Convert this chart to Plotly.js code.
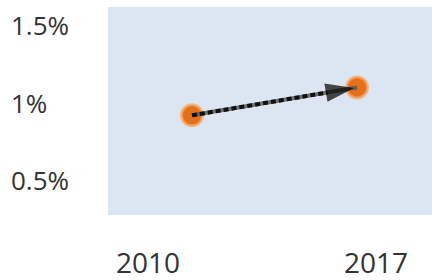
<!DOCTYPE html>
<html>
<head>
<meta charset="utf-8">
<script src="https://cdn.plot.ly/plotly-3.0.1.min.js"></script>
<style>html,body{margin:0;padding:0;background:#fff;}#chart{width:436px;height:280px;}</style>
</head>
<body>
<div id="chart"></div>
<script>
// Data
var years = [2010, 2017];
var rates = [0.92, 1.10];          // percent
var yTickVals = [0.5, 1, 1.5];
var yTickText = ['0.5%', '1%', '1.5%'];
var xTickText = ['2010', '2017'];

var font = "'Open Sans', 'Liberation Sans', sans-serif";

var traces = [
  {
    x: years, y: rates, type: 'scatter', mode: 'markers',
    marker: {color: '#E5701A', size: 21, line: {color: 'rgba(248,165,95,0.7)', width: 3}},
    hoverinfo: 'skip', showlegend: false
  },
  {
    x: years, y: rates, type: 'scatter', mode: 'lines',
    line: {color: 'rgba(90,90,90,0.85)', width: 4},
    hoverinfo: 'skip', showlegend: false
  },
  {
    x: years, y: rates, type: 'scatter', mode: 'lines+markers',
    line: {color: '#111', width: 4, dash: '5px,3px'},
    marker: {symbol: ['circle', 'arrow'], size: [0, 30], angleref: 'previous',
             standoff: 3, color: '#000', line: {width: 0}},
    hoverinfo: 'skip', showlegend: false
  }
];

var annotations = [];
yTickVals.forEach(function (v, i) {
  annotations.push({
    xref: 'paper', yref: 'y', x: -0.305, y: v, xanchor: 'left', yanchor: 'middle',
    text: yTickText[i], showarrow: false, font: {family: font, size: 26, color: '#333'}
  });
});
var xShift = [-44, 19];
years.forEach(function (yr, i) {
  annotations.push({
    xref: 'x', yref: 'paper', x: yr, y: -0.225, xanchor: 'center', yanchor: 'middle',
    xshift: xShift[i],
    text: xTickText[i], showarrow: false, font: {family: font, size: 28, color: '#333'}
  });
});

var layout = {
  width: 436, height: 280,
  margin: {l: 108, r: 4, t: 7, b: 65, pad: 0},
  paper_bgcolor: '#ffffff',
  plot_bgcolor: '#dce6f2',
  xaxis: {range: [2006.436, 2020.18], showgrid: false, zeroline: false,
          showticklabels: false, ticks: '', showline: false},
  yaxis: {range: [0.277, 1.619], showgrid: false, zeroline: false,
          showticklabels: false, ticks: '', showline: false,
          tickvals: yTickVals},
  annotations: annotations,
  font: {family: font}
};

Plotly.newPlot('chart', traces, layout, {staticPlot: true, displayModeBar: false});
</script>
</body>
</html>
